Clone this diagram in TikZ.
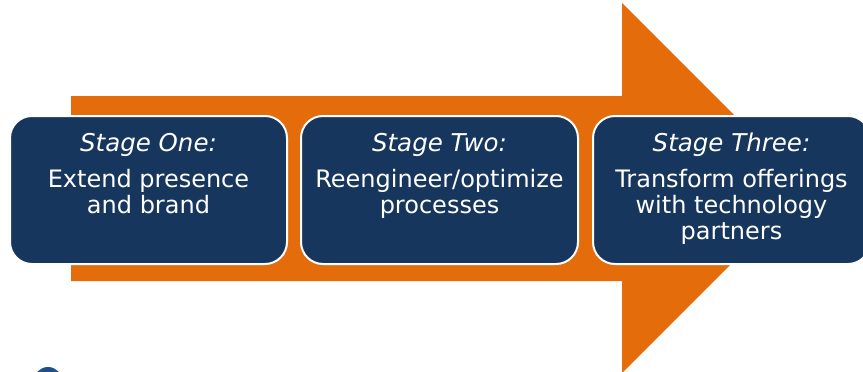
\documentclass[tikz,border=0pt]{standalone}
\usepackage{fontspec}
\setmainfont{DejaVu Sans}
\definecolor{arroworange}{HTML}{E46C0A}
\definecolor{stagenavy}{HTML}{17365D}
\definecolor{logoblue}{HTML}{1F4E8C}
\begin{document}
\begin{tikzpicture}[x=1pt,y=-1pt,
  stagebox/.style={draw=white, line width=2pt, fill=stagenavy, rounded corners=22pt,
    minimum width=277pt, minimum height=148pt, inner sep=0pt, anchor=north west},
  stagetext/.style={text=white, align=center, anchor=north, inner sep=0pt,
    font=\fontsize{24}{26}\selectfont},
  stagetitle/.style={text=white, anchor=base, inner sep=0pt,
    font=\fontsize{24.5}{26}\selectfont\itshape}]
\useasboundingbox (0,0) rectangle (863,372);
\clip (0,0) rectangle (863,372);
% arrow
\fill[arroworange] (71,96) -- (622,96) -- (622,3) -- (807,188) -- (622,373) -- (622,281) -- (71,281) -- cycle;
% logo fragment
\fill[logoblue] (48,381) circle (14);
% boxes
\node[stagebox] (s1) at (9,115) {};
\node[stagebox] (s2) at (300,115) {};
\node[stagebox] (s3) at (592,115) {};
% titles
\node[stagetitle] (t1) at ([yshift=-36pt]s1.north) {Stage One:};
\node[stagetitle] (t2) at ([yshift=-36pt]s2.north) {Stage Two:};
\node[stagetitle] (t3) at ([yshift=-36pt]s3.north) {Stage Three:};
% body texts
\node[stagetext] (b1) at ([yshift=-54pt]s1.north) {Extend presence\\and brand};
\node[stagetext] (b2) at ([yshift=-54pt]s2.north) {Reengineer/optimize\\processes};
\node[stagetext] (b3) at ([yshift=-54pt]s3.north) {Transform offerings\\with technology\\partners};
\end{tikzpicture}
\end{document}
